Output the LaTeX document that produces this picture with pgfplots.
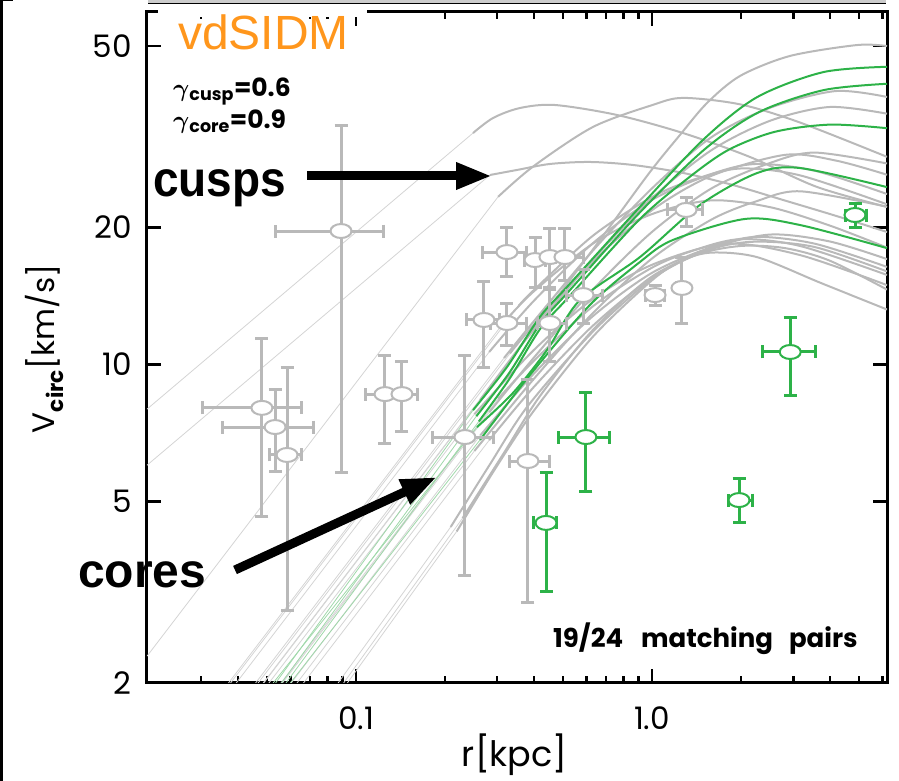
\documentclass[border=0pt]{standalone}
\usepackage{pgfplots}
\pgfplotsset{compat=1.18}
\usepackage{pgfplotstable}
\usepackage{fontspec}
\setmainfont{Poppins}
\newfontfamily\arialfont{Liberation Sans}
\usetikzlibrary{arrows.meta}
\definecolor{lgrey}{RGB}{185,185,185}
\definecolor{thgrey}{RGB}{212,212,212}
\definecolor{mgreen}{RGB}{45,178,72}
\definecolor{thgreen}{RGB}{160,216,170}
\definecolor{vdorange}{RGB}{255,150,28}

\pgfplotstableread{
x y exm exp eym eyp
0.0481 8.03 0.0177 0.0176 3.38 3.37
0.0533 7.29 0.0180 0.0183 1.48 1.50
0.0585 6.33 0.0073 0.0072 3.44 3.50
0.0890 19.63 0.0357 0.0353 13.85 13.77
0.1253 8.61 0.0180 0.0130 1.89 1.83
0.1430 8.61 0.0130 0.0180 1.50 1.52
0.2333 6.93 0.0526 0.0571 3.48 3.51
0.3236 17.65 0.0551 0.0544 2.09 2.28
0.4025 16.95 0.0305 0.0325 2.23 2.09
0.4520 17.21 0.0200 0.0200 2.60 2.70
0.5080 17.21 0.0500 0.0770 1.89 2.70
0.5850 14.20 0.0690 0.0930 1.87 1.92
0.2706 12.52 0.0336 0.0359 2.65 2.65
0.3236 12.33 0.0400 0.0544 1.30 1.31
0.4520 12.33 0.0430 0.0640 2.20 2.46
0.3810 6.14 0.0520 0.0710 3.14 3.11
1.3030 21.83 0.1710 0.1730 1.73 1.47
1.0240 14.20 0.0770 0.0820 0.70 0.74
1.2620 14.72 0.0500 0.0500 2.39 2.41
}\greypts

\pgfplotstableread{
x y exm exp eym eyp
0.4385 4.49 0.0420 0.0390 1.32 1.29
0.5980 6.93 0.1130 0.1180 1.68 1.73
1.9680 5.04 0.1620 0.2090 0.55 0.57
2.9300 10.65 0.5770 0.6230 2.08 2.06
4.8500 21.28 0.3600 0.4400 1.28 1.32
}\greenpts

\begin{document}
\begin{tikzpicture}
\path[use as bounding box] (0pt,0pt) rectangle (899pt,781pt);
\begin{axis}[
  at={(147pt,98pt)}, anchor=south west,
  scale only axis, width=740pt, height=671pt,
  xmode=log, ymode=log,
  xmin=0.01968, xmax=6.221, ymin=2, ymax=59.36,
  xtick={0.1,1}, xticklabels={0.1,1.0},
  minor xtick={0.03,0.04,0.05,0.06,0.07,0.08,0.09,0.2,0.3,0.4,0.5,0.6,0.7,0.8,0.9,2,3,4,5,6},
  ytick={2,5,10,20,50}, yticklabels={2,5,10,20,50},
  yminorticks=false,
  axis line style={line width=3pt},
  major tick length=14pt, minor tick length=7pt,
  every tick/.style={black, line width=2.5pt},
  tick label style={font=\fontsize{31}{31}\selectfont},
  xticklabel style={inner sep=0pt, anchor=north, yshift=-24pt},
  yticklabel style={inner sep=0pt, anchor=east, xshift=-15pt},
  xlabel={r[kpc]},
  xlabel style={font=\fontsize{35}{35}\selectfont, at={(axis description cs:0.497,-0.124)}, anchor=base},
  ylabel={V\textsubscript{\bfseries circ}[km/s]},
  ylabel style={font=\fontsize{31}{31}\selectfont, at={(axis description cs:-0.139,0.498)}, anchor=center},
]
% thin extensions (grey)
\addplot[thgrey, line width=0.8pt] coordinates {(0.0488,2) (0.2624,8.36)};
\addplot[thgrey, line width=0.8pt] coordinates {(0.01968,7.98) (0.2485,32.2)};
\addplot[thgrey, line width=0.8pt] coordinates {(0.01968,6.01) (0.2836,26.05)};
\addplot[thgrey, line width=0.8pt] coordinates {(0.01968,2.29) (0.302,23.33)};
\addplot[thgrey, line width=0.8pt] coordinates {(0.0458,2) (0.3162,10.33)};
\addplot[thgrey, line width=0.8pt] coordinates {(0.0486,2) (0.3548,10.84)};
\addplot[thgrey, line width=0.8pt] coordinates {(0.0564,2) (0.2818,7.85)};
\addplot[thgrey, line width=0.8pt] coordinates {(0.0467,2) (0.3311,10.57)};
\addplot[thgrey, line width=0.8pt] coordinates {(0.0377,2) (0.3548,13.46)};
\addplot[thgrey, line width=0.8pt] coordinates {(0.0394,2) (0.2818,10.65)};
\addplot[thgrey, line width=0.8pt] coordinates {(0.0665,2) (0.2818,6.82)};
\addplot[thgrey, line width=0.8pt] coordinates {(0.0604,2) (0.263,6.99)};
\addplot[thgrey, line width=0.8pt] coordinates {(0.0558,2) (0.302,8.41)};
\addplot[thgrey, line width=0.8pt] coordinates {(0.0508,2) (0.2512,7.78)};
\addplot[thgrey, line width=0.8pt] coordinates {(0.087,2) (0.2089,4.4)};
\addplot[thgrey, line width=0.8pt] coordinates {(0.0935,2) (0.2188,4.3)};
\addplot[thgrey, line width=0.8pt] coordinates {(0.0908,2) (0.2291,4.6)};
\addplot[thgrey, line width=0.8pt] coordinates {(0.0371,2) (0.3162,12.38)};
\addplot[thgrey, line width=0.8pt] coordinates {(0.0632,2) (0.2512,6.46)};
% thin extensions (green)
\addplot[thgreen, line width=0.8pt] coordinates {(0.0535,2) (0.2485,7.94)};
\addplot[thgreen, line width=0.8pt] coordinates {(0.056,2) (0.255,7.7)};
\addplot[thgreen, line width=0.8pt] coordinates {(0.058,2) (0.26,7.5)};
\addplot[thgreen, line width=0.8pt] coordinates {(0.0525,2) (0.2564,7.29)};
\addplot[thgreen, line width=0.8pt] coordinates {(0.060,2) (0.2624,6.83)};
% thick grey curves
\addplot[lgrey, line width=2pt, smooth] coordinates {(0.2624,8.36) (0.4183,12.52) (0.6674,18.76) (0.9845,26.45) (1.243,31.89) (1.534,37.48) (1.983,42.96) (2.925,47.53) (4.928,50.23) (6.221,49.97)};
\addplot[lgrey, line width=2pt, smooth] coordinates {(0.2485,32.2) (0.2903,34.74) (0.358,36.54) (0.470,37.1) (0.7617,35.28) (1.273,32.2) (2.143,28.53) (3.609,24.52) (6.221,22.16)};
\addplot[lgrey, line width=2pt, smooth] coordinates {(0.2836,26.05) (0.35,26.72) (0.452,27.54) (0.617,27.82) (0.8627,27.40) (1.273,26.32) (1.877,24.76) (2.771,22.96) (4.17,21.2) (6.221,19.53)};
\addplot[lgrey, line width=2pt, smooth] coordinates {(0.302,23.33) (0.398,27.23) (0.631,33.19) (1.0,37.07) (1.274,38.46) (1.995,37.2) (3.162,33.96) (6.221,28.55)};
\addplot[lgrey, line width=2pt, smooth] coordinates {(0.3162,10.33) (0.398,12.42) (0.631,17.77) (1.0,24.35) (1.585,31.51) (2.512,36.61) (4.169,39.81) (6.221,38.64)};
\addplot[lgrey, line width=2pt, smooth] coordinates {(0.3548,10.84) (0.398,11.89) (0.631,16.98) (1.0,23.17) (1.585,29.51) (2.512,34.28) (3.981,36.73) (6.221,35.51)};
\addplot[lgrey, line width=2pt, smooth] coordinates {(0.2818,7.85) (0.398,10.33) (0.631,14.59) (1.0,19.54) (1.585,24.32) (2.512,27.7) (3.548,29.17) (6.221,27.61)};
\addplot[lgrey, line width=2pt, smooth] coordinates {(0.3311,10.57) (0.398,12.2) (0.631,16.83) (1.0,21.81) (1.585,25.93) (2.818,28.84) (4.2,28.0) (6.221,26.08)};
\addplot[lgrey, line width=2pt, smooth] coordinates {(0.3548,13.46) (0.398,14.54) (0.631,19.16) (1.0,23.31) (1.413,25.56) (1.995,26.92) (3.162,26.0) (6.221,22.46)};
\addplot[lgrey, line width=2pt, smooth] coordinates {(0.2818,10.65) (0.398,13.77) (0.631,18.45) (1.0,22.97) (1.585,26.16) (2.239,27.54) (3.548,26.61) (6.221,23.66)};
\addplot[lgrey, line width=2pt, smooth] coordinates {(0.2818,6.82) (0.398,8.91) (0.631,12.16) (1.0,15.49) (1.585,17.99) (2.512,19.28) (3.981,18.62) (6.221,17.03)};
\addplot[lgrey, line width=2pt, smooth] coordinates {(0.263,6.99) (0.398,9.53) (0.631,12.76) (1.0,15.89) (1.585,18.09) (2.239,19.05) (3.548,18.41) (6.221,16.37)};
\addplot[lgrey, line width=2pt, smooth] coordinates {(0.302,8.41) (0.398,10.17) (0.631,13.41) (1.0,16.31) (1.413,17.88) (1.995,18.84) (3.162,18.2) (6.221,15.72)};
\addplot[lgrey, line width=2pt, smooth] coordinates {(0.2512,7.78) (0.398,10.74) (0.631,13.92) (1.0,16.55) (1.778,18.41) (3.162,17.38) (6.221,14.93)};
\addplot[lgrey, line width=2pt, smooth] coordinates {(0.2089,4.4) (0.2818,6.0) (0.3802,8.1) (0.631,11.8) (1.0,15.4) (1.413,17.4) (1.995,18.2) (2.818,18.0) (3.981,16.9) (6.221,14.6)};
\addplot[lgrey, line width=2pt, smooth] coordinates {(0.2188,4.3) (0.2951,5.9) (0.398,7.9) (0.631,11.5) (1.0,15.3) (1.259,16.9) (1.585,17.6) (2.265,17.2) (3.715,15.1) (6.221,13.2)};
\addplot[lgrey, line width=2pt, smooth] coordinates {(0.2291,4.6) (0.3162,6.4) (0.4169,8.5) (0.631,11.9) (1.0,15.6) (1.585,17.9) (2.239,18.6) (3.548,18.1) (6.221,16.0)};
\addplot[lgrey, line width=2pt, smooth] coordinates {(0.3162,12.38) (0.398,14.45) (0.631,18.41) (1.0,21.38) (1.585,22.91) (2.512,22.13) (3.981,20.18) (6.221,18.05)};
\addplot[lgrey, line width=2pt, smooth] coordinates {(0.2512,6.46) (0.398,9.28) (0.631,12.96) (1.0,17.08) (1.585,20.78) (2.239,22.78) (3.162,23.99) (6.221,22.19)};
% thick green curves
\addplot[mgreen, line width=2pt, smooth] coordinates {(0.2485,7.94) (0.3236,9.87) (0.4183,12.72) (0.516,14.79) (0.90,22.0) (1.487,31.1) (2.263,38.6) (3.785,43.8) (6.221,45.0)};
\addplot[mgreen, line width=2pt, smooth] coordinates {(0.255,7.7) (0.33,9.6) (0.42,12.3) (0.52,14.4) (0.90,21.4) (1.5,29.6) (2.3,35.8) (3.8,40.0) (6.221,41.3)};
\addplot[mgreen, line width=2pt, smooth] coordinates {(0.26,7.5) (0.33,9.3) (0.42,12.0) (0.52,14.0) (0.90,20.7) (1.3,25.4) (1.8,29.5) (2.6,32.4) (4.0,33.6) (6.221,33.0)};
\addplot[mgreen, line width=2pt, smooth] coordinates {(0.2564,7.29) (0.339,8.66) (0.442,10.76) (0.571,13.85) (0.911,17.21) (1.452,22.39) (2.263,26.3) (3.162,26.98) (6.221,24.5)};
\addplot[mgreen, line width=2pt, smooth] coordinates {(0.2624,6.83) (0.387,9.48) (0.617,13.51) (0.911,16.79) (1.177,18.76) (2.062,20.86) (3.162,20.23) (6.221,18.0)};
% data points
\addplot[only marks, mark=*, mark size=7pt,
  mark options={fill=white, draw=lgrey, line width=2pt, xscale=1.5},
  error bars/.cd, x dir=both, x explicit, y dir=both, y explicit,
  error bar style={lgrey, line width=3pt},
  error mark options={rotate=90, lgrey, line width=3pt, mark size=6.5pt}]
  table[x=x, y=y, x error minus=exm, x error plus=exp, y error minus=eym, y error plus=eyp] {\greypts};
\addplot[only marks, mark=*, mark size=7pt,
  mark options={fill=white, draw=mgreen, line width=2pt, xscale=1.5},
  error bars/.cd, x dir=both, x explicit, y dir=both, y explicit,
  error bar style={mgreen, line width=3pt},
  error mark options={rotate=90, mgreen, line width=3pt, mark size=6.5pt}]
  table[x=x, y=y, x error minus=exm, x error plus=exp, y error minus=eym, y error plus=eyp] {\greenpts};
\end{axis}
% frame bits of the cropped figure
\fill[black] (0pt,0pt) rectangle (3pt,781pt);
\fill[black] (0pt,779.5pt) rectangle (13pt,781pt);
\fill[gray!40] (148pt,777pt) rectangle (886pt,781pt);
\draw[black, line width=1.5pt] (148pt,777.5pt) -- (886pt,777.5pt);
% label box
\fill[white] (158pt,764pt) rectangle (367pt,775pt);
\node[anchor=base west, inner sep=0pt, text=vdorange, font=\arialfont\fontsize{48}{48}\selectfont] at (178pt,731pt) {vdSIDM};
\node[anchor=base west, inner sep=0pt, font=\bfseries\fontsize{25}{25}\selectfont] at (173pt,684pt) {{\boldmath$\gamma$}\textsubscript{cusp}=0.6};
\node[anchor=base west, inner sep=0pt, font=\bfseries\fontsize{25}{25}\selectfont] at (173pt,652pt) {{\boldmath$\gamma$}\textsubscript{core}=0.9};
\node[anchor=base west, inner sep=0pt, font=\bfseries\fontsize{26}{26}\selectfont] at (553pt,133pt) {19/24\hspace{18pt}matching\hspace{16pt}pairs};
% annotations
\node[anchor=base west, inner sep=0pt, font=\arialfont\bfseries\fontsize{50}{50}\selectfont] at (153pt,584pt) {\scalebox{0.92}[1]{cusps}};
\node[anchor=base west, inner sep=0pt, font=\arialfont\bfseries\fontsize{48}{48}\selectfont] at (78pt,193pt) {cores};
\draw[line width=9pt, -{Triangle[length=36pt,width=25pt]}] (307pt,605pt) -- (492pt,605pt);
\draw[line width=9pt, -{Triangle[length=36pt,width=25pt]}] (235pt,211pt) -- (437pt,304pt);
\end{tikzpicture}
\end{document}
